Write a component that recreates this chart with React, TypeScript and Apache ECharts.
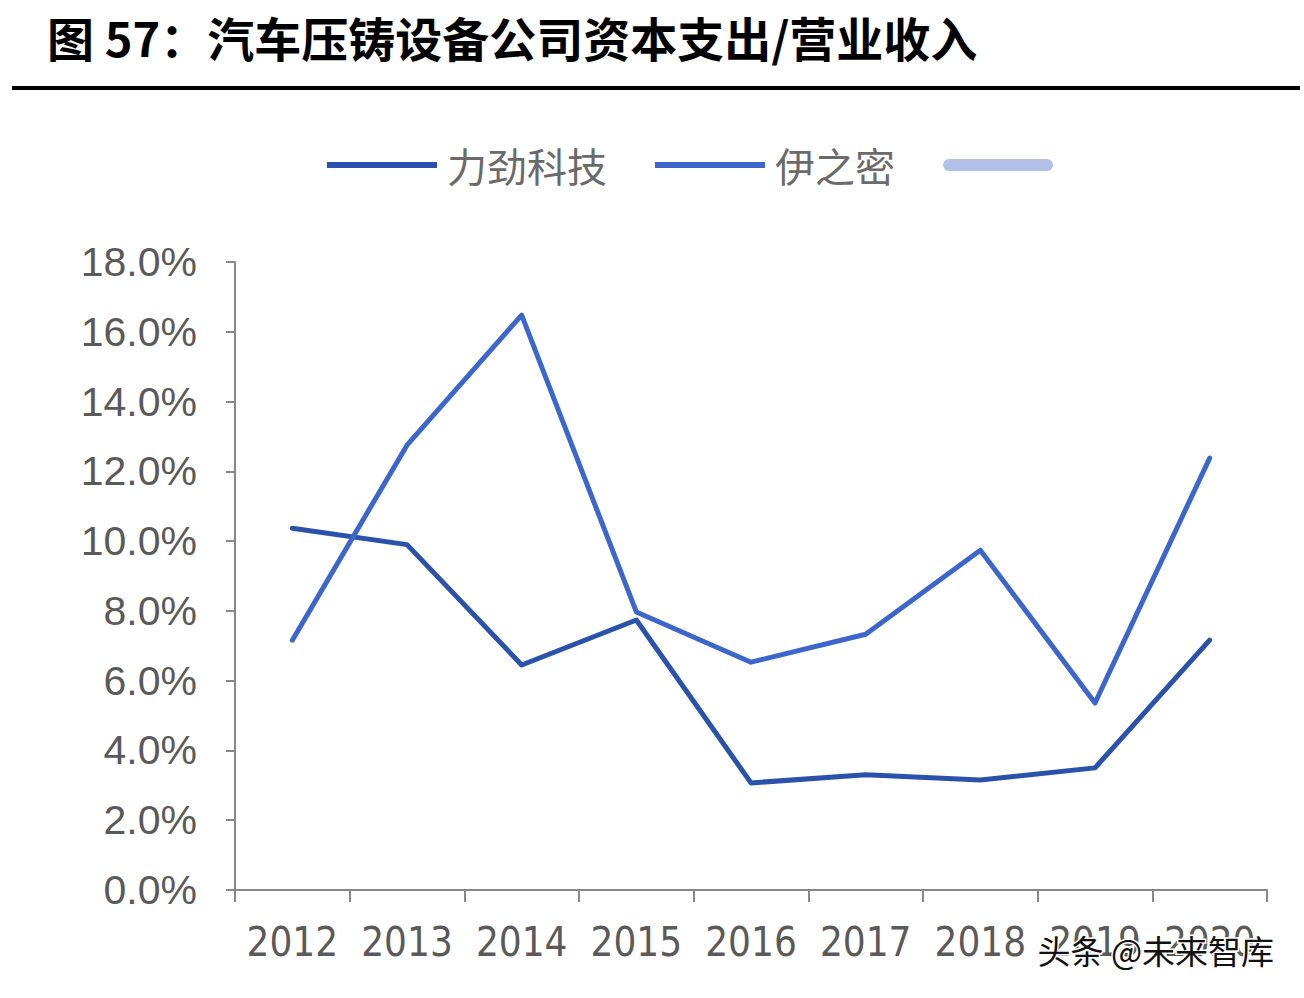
import React, { useEffect, useRef } from "react";
import * as echarts from "echarts";

const categories = ["2012", "2013", "2014", "2015", "2016", "2017", "2018", "2019", "2020"];
const lijin = [10.37, 9.9, 6.45, 7.74, 3.07, 3.3, 3.15, 3.5, 7.16];
const yizhimi = [7.16, 12.75, 16.48, 7.97, 6.53, 7.33, 9.74, 5.36, 12.38];
const seriesNames = ["力劲科技", "伊之密", " "];
const yTicks = { min: 0, max: 18, interval: 2 };
const titleText = "图 57：汽车压铸设备公司资本支出/营业收入";
const watermark = "头条 @未来智库";

const barIcon = "path://M0,0 L110,0 Z M0,3 L110,3 L110,9 L0,9 Z M0,12 L110,12 Z";
const roundIcon = "path://M6,0 L104,0 A6,6 0 0 1 104,12 L6,12 A6,6 0 0 1 6,0 Z";

export default function App() {
  const ref = useRef<HTMLDivElement>(null);
  useEffect(() => {
    const chart = echarts.init(ref.current!, null, { renderer: "svg" });
    const cjk = "'Noto Sans CJK SC', sans-serif";
    const latin = "'Liberation Sans', Arial, sans-serif";
    const narrow = "'Liberation Sans Narrow', 'DejaVu Sans Condensed', 'Liberation Sans', sans-serif";
    chart.setOption({
      animation: false,
      backgroundColor: "#ffffff",
      title: {
        text: titleText,
        left: 42,
        top: 8,
        textStyle: { fontFamily: cjk, fontSize: 47, fontWeight: "bold", color: "#000" },
      },
      graphic: [
        { type: "rect", shape: { x: 12, y: 86, width: 1288, height: 4 }, style: { fill: "#000" } },
        {
          type: "text",
          left: 1036,
          top: 932,
          z: 100,
          style: {
            text: watermark,
            font: "33px 'Noto Sans CJK SC', sans-serif",
            fill: "#111",
            stroke: "#fff",
            lineWidth: 3,
          },
        },
      ],
      legend: {
        top: 140,
        left: 322,
        itemWidth: 110,
        itemHeight: 12,
        itemGap: 48,
        textStyle: { fontFamily: cjk, fontSize: 40, color: "#6a6a6a", padding: [0, 0, 0, 5] },
        data: [
          { name: seriesNames[0], icon: barIcon, itemStyle: { color: "#2b52aa", borderWidth: 0 } },
          { name: seriesNames[1], icon: barIcon, itemStyle: { color: "#3d66cc", borderWidth: 0 } },
          { name: seriesNames[2], icon: roundIcon, itemStyle: { color: "#b3c1e8", borderWidth: 0 } },
        ],
      },
      grid: { left: 235, right: 37, top: 262, bottom: 108 },
      xAxis: {
        type: "category",
        data: categories,
        axisLine: { lineStyle: { color: "#888", width: 2 } },
        axisTick: { show: true, interval: 0, length: 12, lineStyle: { color: "#888", width: 2 } },
        axisLabel: { interval: 0, fontFamily: narrow, fontSize: 40, color: "#5a5a5a", margin: 32 },
      },
      yAxis: {
        type: "value",
        min: yTicks.min,
        max: yTicks.max,
        interval: yTicks.interval,
        axisLine: { show: true, lineStyle: { color: "#888", width: 2 } },
        axisTick: { show: true, length: 9, lineStyle: { color: "#888", width: 2 } },
        splitLine: { show: false },
        axisLabel: {
          fontFamily: latin,
          fontSize: 41,
          color: "#5a5a5a",
          margin: 38,
          formatter: (v: number) => v.toFixed(1) + "%",
        },
      },
      series: [
        {
          name: seriesNames[0],
          type: "line",
          data: lijin,
          symbol: "none",
          color: "#2b52aa",
          lineStyle: { width: 5, color: "#2b52aa", cap: "round", join: "round" },
        },
        {
          name: seriesNames[1],
          type: "line",
          data: yizhimi,
          symbol: "none",
          color: "#3d66cc",
          lineStyle: { width: 5, color: "#3d66cc", cap: "round", join: "round" },
        },
        {
          name: seriesNames[2],
          type: "line",
          data: [],
          symbol: "none",
          color: "#b3c1e8",
          lineStyle: { width: 12, color: "#b3c1e8", cap: "round" },
        },
      ],
    });
    return () => chart.dispose();
  }, []);
  return (
    <div
      ref={ref}
      style={{ position: "fixed", left: 0, top: 0, width: 1304, height: 998 }}
    />
  );
}
